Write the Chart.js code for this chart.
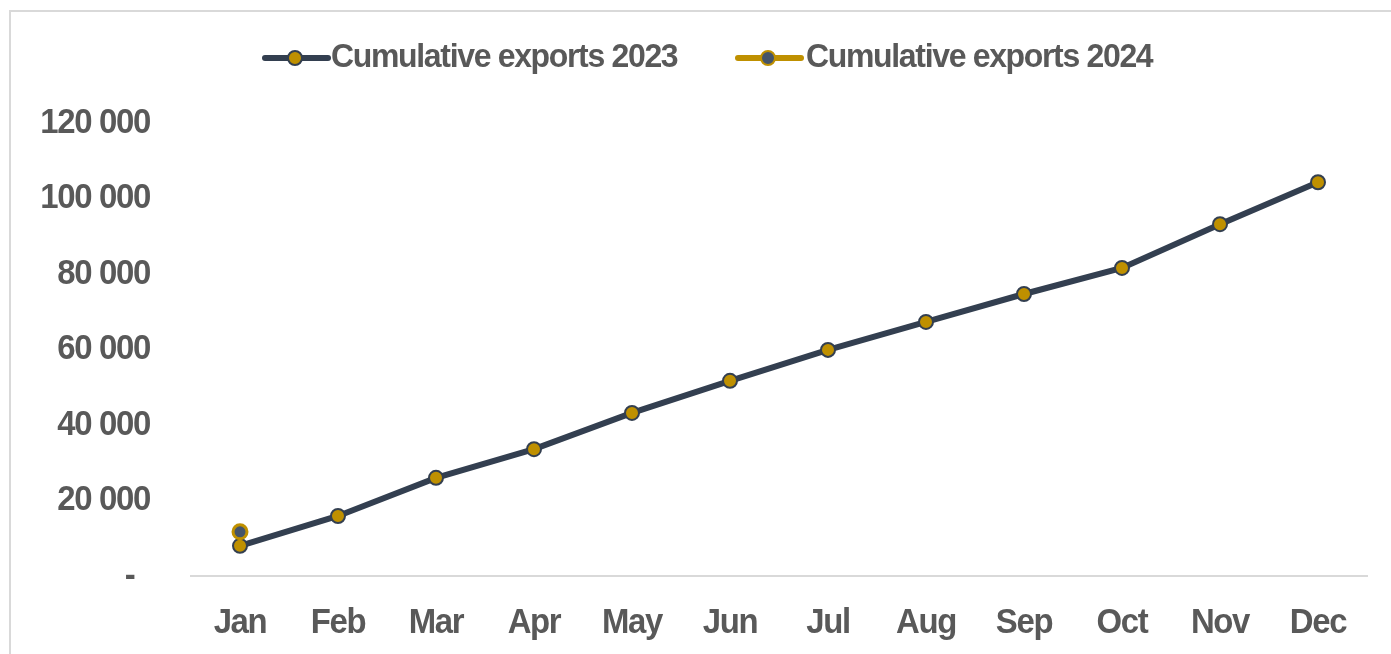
<!DOCTYPE html>
<html>
<head>
<meta charset="utf-8">
<script src="https://cdn.jsdelivr.net/npm/chart.js@4"></script>
<style>
  html, body { margin: 0; padding: 0; background: #fff; }
  #wrap { position: relative; width: 1391px; height: 654px; overflow: hidden; }
  #frame { position: absolute; left: 9px; top: 10px; width: 2000px; height: 1000px;
           border-top: 2px solid #d9d9d9; border-left: 2px solid #d9d9d9; }
  canvas { position: absolute; left: 0; top: 0; }
</style>
</head>
<body>
<div id="wrap">
  <div id="frame"></div>
  <canvas id="c" width="1391" height="654"></canvas>
</div>
<script>
const categories = ['Jan','Feb','Mar','Apr','May','Jun','Jul','Aug','Sep','Oct','Nov','Dec'];
const exports2023 = [8000, 15900, 26000, 33600, 43200, 51700, 59900, 67300, 74700, 81600, 93200, 104300];
const exports2024 = [11700, null, null, null, null, null, null, null, null, null, null, null];
const seriesNames = ['Cumulative exports 2023', 'Cumulative exports 2024'];
const yTicks = [0, 20000, 40000, 60000, 80000, 100000, 120000];

const NAVY = '#333f50';
const GOLD = '#bf9000';
const SLATE = '#44546a';
const TEXT = '#595959';
const FONT = '"Liberation Sans", Arial, sans-serif';
const XSCALE = 0.94;      // slightly condensed text
const TRACKING = '-1.4px'; // tight letter spacing

function fmt(v) {
  if (v === 0) return '-  ';
  return String(v).replace(/\B(?=(\d{3})+(?!\d))/g, ' ');
}

const canvas = document.getElementById('c');
const ctx0 = canvas.getContext('2d');
const origFill = ctx0.fillText.bind(ctx0);
ctx0.fillText = function (text, x, y, maxWidth) {
  this.save();
  this.translate(x, y);
  this.scale(XSCALE, 1);
  this.letterSpacing = TRACKING;
  if (maxWidth !== undefined) origFill(text, 0, 0, maxWidth / XSCALE);
  else origFill(text, 0, 0);
  this.restore();
};

const legendPlugin = {
  id: 'customLegend',
  afterDraw(chart) {
    const ctx = chart.ctx;
    const items = [
      { x1: 265, x2: 328, cx: 295, tx: 331, line: NAVY, fill: GOLD, stroke: NAVY, label: seriesNames[0] },
      { x1: 738, x2: 801, cx: 768, tx: 806, line: GOLD, fill: SLATE, stroke: GOLD, label: seriesNames[1] }
    ];
    const y = 58;
    ctx.save();
    items.forEach(it => {
      ctx.strokeStyle = it.line;
      ctx.lineWidth = 6;
      ctx.lineCap = 'round';
      ctx.beginPath(); ctx.moveTo(it.x1, y); ctx.lineTo(it.x2, y); ctx.stroke();
      ctx.beginPath(); ctx.arc(it.cx, y, 7, 0, Math.PI * 2);
      ctx.fillStyle = it.fill; ctx.fill();
      ctx.lineWidth = 2; ctx.strokeStyle = it.stroke; ctx.stroke();
      ctx.fillStyle = TEXT;
      ctx.font = 'bold 34px ' + FONT;
      ctx.textAlign = 'left';
      ctx.textBaseline = 'middle';
      ctx.fillText(it.label, it.tx, y);
    });
    ctx.restore();
  }
};

new Chart(canvas, {
  type: 'line',
  data: {
    labels: categories,
    datasets: [
      {
        label: seriesNames[0],
        data: exports2023,
        borderColor: NAVY,
        borderWidth: 6,
        pointRadius: 7,
        pointBackgroundColor: GOLD,
        pointBorderColor: NAVY,
        pointBorderWidth: 2,
        tension: 0,
        order: 2
      },
      {
        label: seriesNames[1],
        data: exports2024,
        borderColor: GOLD,
        borderWidth: 6,
        pointRadius: 7,
        pointBackgroundColor: SLATE,
        pointBorderColor: GOLD,
        pointBorderWidth: 3,
        spanGaps: false,
        order: 1
      }
    ]
  },
  options: {
    responsive: false,
    animation: false,
    layout: { padding: { left: 0, right: 24, top: 123, bottom: 0 } },
    plugins: { legend: { display: false }, tooltip: { enabled: false } },
    scales: {
      x: {
        offset: true,
        grid: { display: false, drawTicks: false },
        border: { display: true, color: '#d9d9d9', width: 2 },
        ticks: {
          color: TEXT, padding: 26, maxRotation: 0, autoSkip: false,
          font: { family: FONT, size: 35, weight: 'bold' }
        },
        afterFit(s) { s.height = 78; }
      },
      y: {
        min: 0, max: 120000,
        afterBuildTicks(s) { s.ticks = yTicks.map(v => ({ value: v })); },
        grid: { display: false, drawTicks: false },
        border: { display: false },
        ticks: {
          color: TEXT, padding: 41,
          callback: v => fmt(v),
          font: { family: FONT, size: 35, weight: 'bold' }
        },
        afterFit(s) { s.width = 191; }
      }
    }
  },
  plugins: [legendPlugin]
});
</script>
</body>
</html>
